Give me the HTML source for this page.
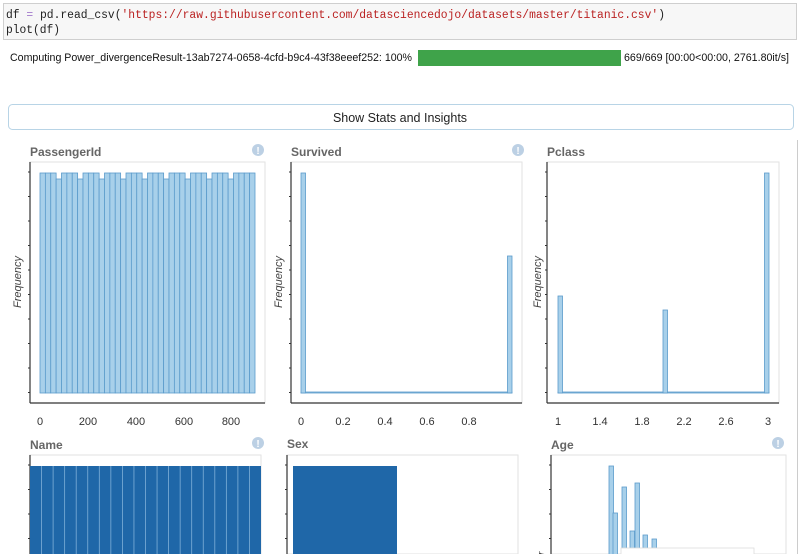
<!DOCTYPE html>
<html><head><meta charset="utf-8"><style>
html,body{margin:0;padding:0;background:#fff;width:800px;height:554px;overflow:hidden}
svg{display:block;overflow:hidden}
</style></head><body>
<svg id="s" width="800" height="554" xmlns="http://www.w3.org/2000/svg" font-family="Liberation Sans, sans-serif">
<rect x="3.5" y="3.5" width="793" height="36" fill="#f7f7f7" stroke="#cfcfcf"/>
<text x="6" y="18" font-family="Liberation Mono, monospace" font-size="11.5" fill="#222" textLength="659" lengthAdjust="spacingAndGlyphs">df <tspan fill="#a37acc">=</tspan> pd.read_csv(<tspan fill="#ba2121">'https://raw.githubusercontent.com/datasciencedojo/datasets/master/titanic.csv'</tspan>)</text>
<text x="6" y="33" font-family="Liberation Mono, monospace" font-size="11.5" fill="#222" textLength="54" lengthAdjust="spacingAndGlyphs">plot(df)</text>
<text x="10" y="61" font-size="11" fill="#111" textLength="402" lengthAdjust="spacingAndGlyphs">Computing Power_divergenceResult-13ab7274-0658-4cfd-b9c4-43f38eeef252: 100%</text>
<rect x="418" y="50" width="203" height="16" fill="#3fa34a"/>
<text x="624" y="61" font-size="11" fill="#111" textLength="165" lengthAdjust="spacingAndGlyphs">669/669 [00:00&lt;00:00, 2761.80it/s]</text>
<rect x="8.5" y="104.5" width="785" height="25" rx="4" fill="#fff" stroke="#b8d4e6"/>
<text x="400" y="122" font-size="12.5" fill="#222" text-anchor="middle">Show Stats and Insights</text>
<g id="g"></g>
</svg>
<script>
const g=document.getElementById('g');let h='';
function R(x,y,w,ht,f,s){h+=`<rect x="${x}" y="${y}" width="${w}" height="${ht}" fill="${f}" ${s?`stroke="${s}" stroke-width="0.8"`:''}/>`}
function T(x,y,t,o){h+=`<text x="${x}" y="${y}" ${o||''}>${t}</text>`}
function icon(x,y){h+=`<circle cx="${x}" cy="${y}" r="6" fill="#bcd0e4"/><text x="${x}" y="${y+4}" font-size="10" font-weight="bold" fill="#fff" text-anchor="middle">!</text>`}
function panel(ax,right,top,bot,title,ic,freq){
 T(ax,title[1],title[0],'font-size="12" font-weight="bold" fill="#666"');
 if(ic)icon(ic[0],ic[1]);
 h+=`<rect x="${ax}" y="${top}" width="${right-ax}" height="${bot-top}" fill="#fff" stroke="#e2e2e2"/>`;
 h+=`<line x1="${ax}" y1="${top}" x2="${ax}" y2="${Math.min(bot,554)}" stroke="#333" stroke-width="1.2"/>`;
 for(let y=top+10;y<Math.min(bot,554);y+=24.5)h+=`<line x1="${ax-2}" y1="${y}" x2="${ax}" y2="${y}" stroke="#333"/>`;
 if(bot<554)h+=`<line x1="${ax}" y1="${bot}" x2="${right}" y2="${bot}" stroke="#333" stroke-width="1.2"/>`;
 if(freq)T(0,0,'Frequency',`font-size="11" font-style="italic" fill="#444" text-anchor="middle" transform="translate(${freq[0]},${freq[1]}) rotate(-90)"`);
}
const bf='#a8d0ea',bs='#5b9bcb';
panel(30,265,162,403,['PassengerId',156],[258,150],[21,282]);
let bw=215/40;
for(let i=0;i<40;i++){let t=(i%4==3&&i<39)?179:173;R(40+i*bw,t,bw,393-t,bf,bs)}
[[0,40],[200,88],[400,136],[600,184],[800,231]].forEach(a=>T(a[1],425,a[0],'font-size="11" fill="#333" text-anchor="middle"'));
panel(291,522,162,403,['Survived',156],[518,150],[282,282]);
R(301,392,211,1,bf,bs);R(301,173,4.5,220,bf,bs);R(507.5,256,4.5,137,bf,bs);
[['0',301],['0.2',343],['0.4',385],['0.6',427],['0.8',469]].forEach(a=>T(a[1],425,a[0],'font-size="11" fill="#333" text-anchor="middle"'));
panel(547,779,162,403,['Pclass',156],null,[541,282]);
R(558,392,211,1,bf,bs);R(558,296,4.5,97,bf,bs);R(663,310,4.5,83,bf,bs);R(764.5,173,4.5,220,bf,bs);
[['1',558],['1.4',600],['1.8',642],['2.2',684],['2.6',726],['3',768]].forEach(a=>T(a[1],425,a[0],'font-size="11" fill="#333" text-anchor="middle"'));
panel(30,261,455,554,['Name',449],[258,443],null);
R(30,466,231,88,'#1f67a8');
for(let i=1;i<20;i++)h+=`<line x1="${30+i*231/20}" y1="466" x2="${30+i*231/20}" y2="554" stroke="#7fb0d8" stroke-width="0.8"/>`;
panel(287,518,455,554,['Sex',448],null,null);
R(293,466,104,88,'#1f67a8');
panel(551,786,455,554,['Age',449],[778,443],null);
[[609,466],[613,513],[622,487],[630,531],[635,483],[643,535],[652,539]].forEach(b=>R(b[0],b[1],4.5,554-b[1]+2,bf,bs));
R(621,548,133,8,'#fff','#ddd');
T(0,0,'Fr',`font-size="11" font-style="italic" fill="#444" transform="translate(545,562) rotate(-90)"`);
h+=`<line x1="797.5" y1="140" x2="797.5" y2="554" stroke="#ccc"/>`;
g.innerHTML=h;
</script>
</body></html>
